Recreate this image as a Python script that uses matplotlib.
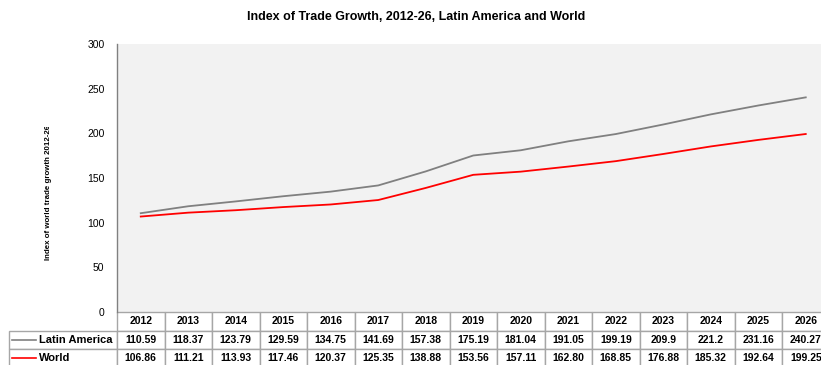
import matplotlib.pyplot as plt
from matplotlib.lines import Line2D
from matplotlib.transforms import Bbox

plt.rcParams['font.family'] = ['Liberation Sans', 'DejaVu Sans']

years = ['2012', '2013', '2014', '2015', '2016', '2017', '2018', '2019',
         '2020', '2021', '2022', '2023', '2024', '2025', '2026']
latin_america = [110.59, 118.37, 123.79, 129.59, 134.75, 141.69, 157.38, 175.19,
                 181.04, 191.05, 199.19, 209.9, 221.2, 231.16, 240.27]
world = [106.86, 111.21, 113.93, 117.46, 120.37, 125.35, 138.88, 153.56,
         157.11, 162.80, 168.85, 176.88, 185.32, 192.64, 199.25]
la_labels = ['110.59', '118.37', '123.79', '129.59', '134.75', '141.69', '157.38', '175.19',
             '181.04', '191.05', '199.19', '209.9', '221.2', '231.16', '240.27']
world_labels = ['106.86', '111.21', '113.93', '117.46', '120.37', '125.35', '138.88', '153.56',
                '157.11', '162.80', '168.85', '176.88', '185.32', '192.64', '199.25']
series_names = ['Latin America', 'World']
series_colors = ['#808080', '#ff0000']

W, H = 821, 365
fig = plt.figure(figsize=(W / 100, H / 100), dpi=100)

# plot area in pixels (runs past the right edge like the original)
left, right, top, bottom = 117, 829.5, 44, 312
ax = fig.add_axes([left / W, 1 - bottom / H, (right - left) / W, (bottom - top) / H])
ax.set_facecolor('#f2f2f2')

x = list(range(len(years)))
ax.plot(x, latin_america, color=series_colors[0], lw=1.3)
ax.plot(x, world, color=series_colors[1], lw=1.3)
ax.set_xlim(-0.5, len(years) - 0.5)
ax.set_ylim(0, 300)
ax.set_yticks(range(0, 301, 50))
ax.tick_params(axis='y', length=0, labelsize=7.5, pad=9)
ax.set_xticks([])
for s in ['top', 'right', 'bottom']:
    ax.spines[s].set_visible(False)
ax.spines['left'].set_color('#808080')
ax.spines['left'].set_linewidth(1)

# data table under the plot
ax_w = right - left
ax_h = bottom - top
row_h = 18.5
label_w = 108
cell_text = [[''] + years,
             [series_names[0]] + la_labels,
             [series_names[1]] + world_labels]
tbl = ax.table(cellText=cell_text, cellLoc='center',
               bbox=[-label_w / ax_w, -3 * row_h / ax_h, (ax_w + label_w) / ax_w, 3 * row_h / ax_h])
tbl.auto_set_font_size(False)
tot = ax_w + label_w
for (r, c), cell in tbl.get_celld().items():
    cell.set_width((label_w if c == 0 else 47.5) / tot)
    cell.set_edgecolor('#a6a6a6')
    cell.set_linewidth(1)
    cell.set_facecolor('white')
    cell.get_text().set_fontsize(7.5)
    cell.get_text().set_fontweight('bold')
    if r == 0 and c == 0:
        cell.set_visible(False)
    if c == 0 and r > 0:
        cell.get_text().set_ha('left')
        cell._loc = 'left'
        cell.PAD = 0.28
        cell.get_text().set_fontsize(8)

# legend keys in the label column
for i, col in enumerate(series_colors):
    yc = -(1.5 + i) * row_h / ax_h
    ax.add_line(Line2D([-(label_w - 3) / ax_w, -(label_w - 27) / ax_w], [yc, yc],
                       transform=ax.transAxes, color=col, lw=1.2, clip_on=False))

fig.text(416 / W, 1 - 17 / H, 'Index of Trade Growth, 2012-26, Latin America and World',
         ha='center', va='center', fontsize=9, fontweight='bold')

ylab = fig.text(49 / W, 1 - 260 / H, 'Index of world trade growth 2012-26',
                rotation=90, ha='center', va='bottom', fontsize=5.7, fontweight='bold')
ylab.set_clip_box(Bbox.from_extents(0, 0, W, H - 127))
ylab.set_clip_on(True)

fig.savefig('out.png', dpi=100)
